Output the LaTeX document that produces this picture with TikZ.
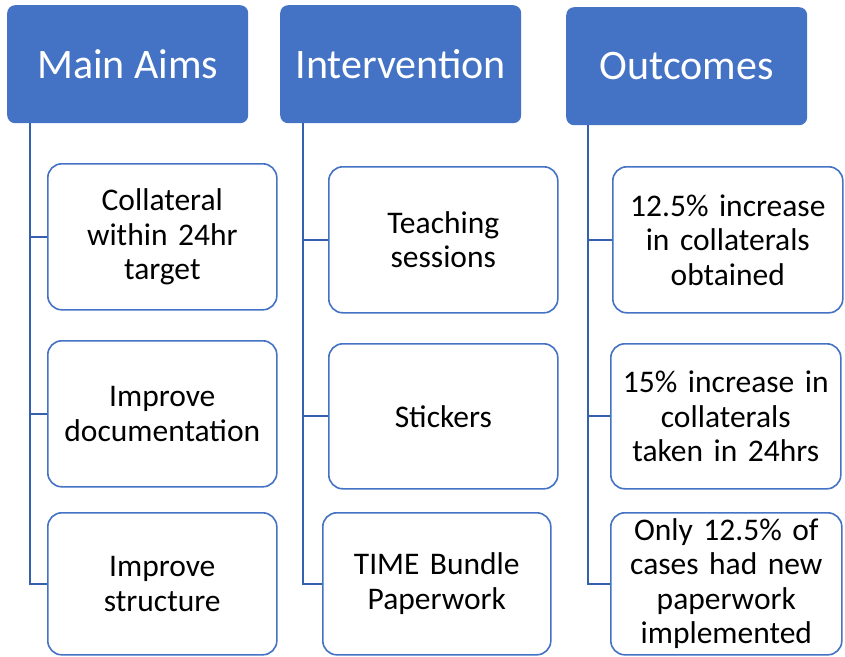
\documentclass[tikz,border=0pt]{standalone}
\usepackage{fontspec}
\setmainfont{Carlito}
\usetikzlibrary{positioning}
\definecolor{headblue}{HTML}{4472C4}
\definecolor{linkblue}{HTML}{3560AE}
\tikzset{
  header/.style={rectangle, rounded corners=8pt, fill=headblue, text=white, anchor=north west,
    minimum width=241pt, minimum height=118pt, inner sep=0pt, font=\fontsize{42}{50}\selectfont},
  leaf/.style={rectangle, rounded corners=14pt, draw=headblue, line width=1.6pt, fill=white, anchor=north west,
    minimum width=229pt, minimum height=146pt, text width=222pt, align=center, inner sep=0pt,
    font=\fontsize{31.5}{34.5}\selectfont},
  link/.style={draw=linkblue, line width=2pt}
}

\begin{document}
\begin{tikzpicture}[x=1pt,y=-1pt]
        \useasboundingbox (0,0) rectangle (845,656);

        % column headers
        \node[header] (aims) at (7,5) {Main Aims};
        \node[header] (interv) at (280,5) {Intervention};
        \node[header] (outc) at (566,7) {Outcomes};

        % main aims
        \node[leaf] (aim1) at (47,163) {Collateral\\within 24hr\\target};
        \node[leaf] (aim2) at (47,340) {Improve\\documentation};
        \node[leaf, minimum height=142pt] (aim3) at (47,512) {Improve\\structure};

        % intervention
        \node[leaf] (int1) at (328,166) {Teaching\\sessions};
        \node[leaf, minimum height=145pt] (int2) at (328,343) {Stickers};
        \node[leaf, minimum width=228pt, minimum height=142pt] (int3) at (322,512) {TIME Bundle\\Paperwork};

        % outcomes
        \node[leaf, minimum width=230pt] (out1) at (612,166) {12.5\% increase\\in collaterals\\obtained};
        \node[leaf, minimum width=230pt, minimum height=145pt] (out2) at (610,343) {15\% increase in\\collaterals\\taken in 24hrs};
        \node[leaf, minimum width=231pt, minimum height=142pt] (out3) at (610,512) {Only 12.5\% of\\cases had new\\paperwork\\implemented};

        % trunks
        \coordinate (t1) at (30,123);
        \coordinate (t2) at (303,123);
        \coordinate (t3) at (588,125);

        \draw[link] (t1) |- (aim3.west);
        \draw[link] (t1 |- aim1.west) -- (aim1.west);
        \draw[link] (t1 |- aim2.west) -- (aim2.west);

        \draw[link] (t2) |- (int3.west);
        \draw[link] (t2 |- int1.west) -- (int1.west);
        \draw[link] (t2 |- int2.west) -- (int2.west);

        \draw[link] (t3) |- (out3.west);
        \draw[link] (t3 |- out1.west) -- (out1.west);
        \draw[link] (t3 |- out2.west) -- (out2.west);
\end{tikzpicture}
\end{document}
